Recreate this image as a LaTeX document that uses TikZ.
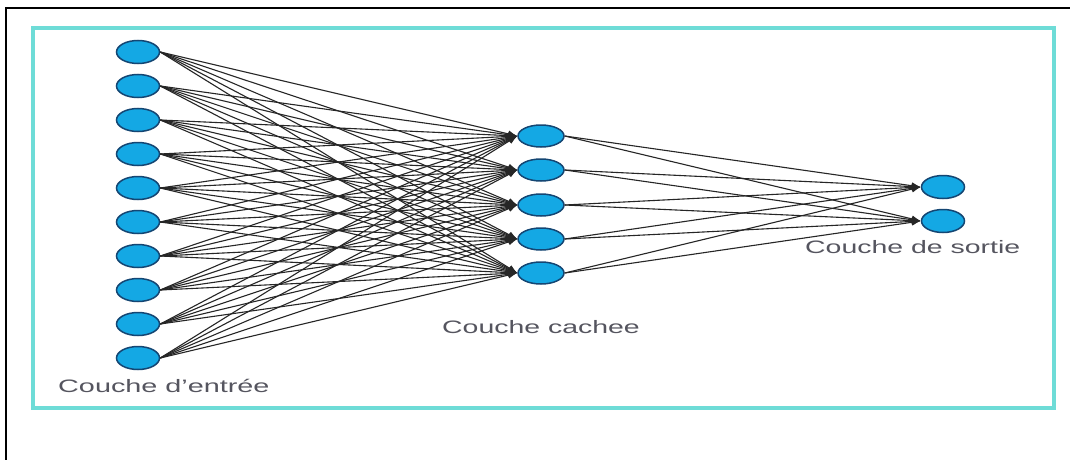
\documentclass[tikz,border=0pt]{standalone}
\usepackage{fontspec}
\setmainfont{Liberation Sans}
\usetikzlibrary{shapes.geometric,arrows.meta}
\definecolor{nodefill}{RGB}{20,168,228}
\definecolor{nodeline}{RGB}{20,70,115}
\definecolor{frameCyan}{RGB}{110,220,215}
\definecolor{labelgray}{RGB}{85,85,95}
\begin{document}
\begin{tikzpicture}[x=1pt,y=-1pt,
 neuron/.style={ellipse,draw=nodeline,line width=1.5pt,fill=nodefill,minimum width=43pt,minimum height=23pt,inner sep=0pt},
 conn/.style={draw=black!85,line width=1.1pt,-{Latex[length=9pt,width=7pt]}},
 lbl/.style={text=labelgray,font=\fontsize{18}{20}\selectfont,anchor=base west,inner sep=0pt}]
\useasboundingbox (0,0) rectangle (1070,460);
\fill[white] (0,0) rectangle (1070,460);
\draw[line width=1.5pt] (6,460) -- (6,8) -- (1070,8);
\draw[frameCyan,line width=3.5pt,fill=white] (33,28) rectangle (1054,408);
\foreach \i in {1,...,10}{
  \node[neuron] (in\i) at (138,{52+(\i-1)*34}) {};
}
\foreach \j/\y in {1/136,2/170,3/205,4/239,5/273}{
  \node[neuron,minimum width=46pt,minimum height=22pt] (h\j) at (541,\y) {};
}
\node[neuron] (o1) at (943,187) {};
\node[neuron] (o2) at (943,221) {};
\foreach \i in {1,...,10}{
  \foreach \j in {1,...,5}{
    \draw[conn] (in\i.east) -- (h\j.west);
  }
}
\foreach \j in {1,...,5}{
  \draw[conn] (h\j.east) -- (o1.west);
  \draw[conn] (h\j.east) -- (o2.west);
}
\node[lbl] (l1) at (58,392) {\scalebox{1.6}[1]{Couche d'entrée}};
\node[lbl] (l2) at (442,333) {\scalebox{1.58}[1]{Couche cachee}};
\node[lbl] (l3) at (805,253) {\scalebox{1.58}[1]{Couche de sortie}};
\end{tikzpicture}
\end{document}
